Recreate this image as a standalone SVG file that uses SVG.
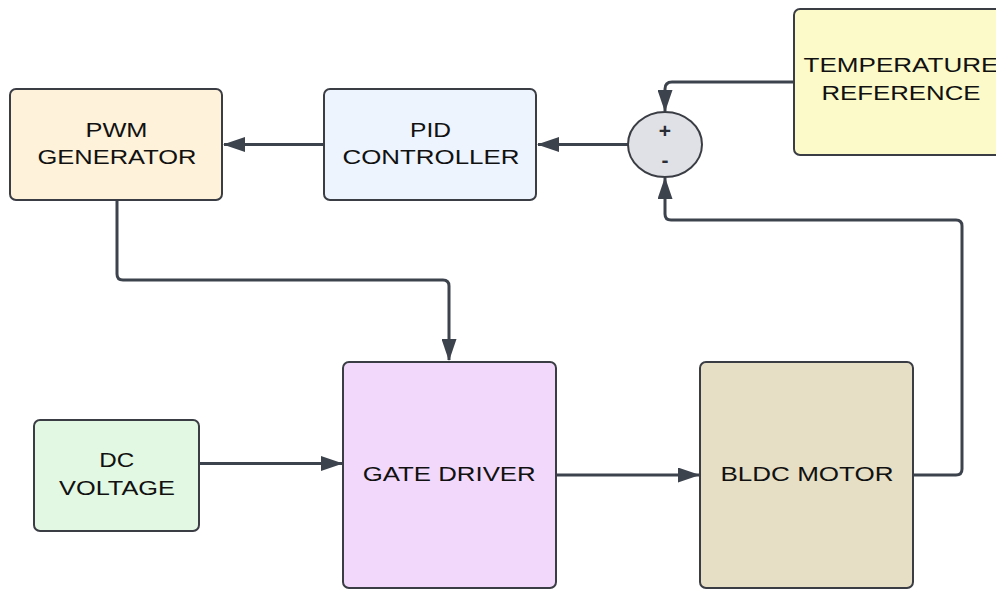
<svg xmlns="http://www.w3.org/2000/svg" width="996" height="590" viewBox="0 0 996 590">
<style>
.box{stroke:#3a3d44;stroke-width:2}
.lbl{font-family:"Liberation Sans",Arial,sans-serif;font-size:21px;fill:#111111;text-anchor:middle}
.sign{font-family:"Liberation Sans",Arial,sans-serif;font-size:21px;font-weight:bold;fill:#2a2d33;text-anchor:middle}
.conn{fill:none;stroke:#3d434c;stroke-width:3}
</style>
<defs>
<marker id="arr" markerUnits="userSpaceOnUse" markerWidth="22" markerHeight="15" refX="21" refY="7.5" orient="auto">
<path d="M0,0 L22,7.5 L0,15 z" fill="#3d434c"/>
</marker>
</defs>
<rect width="996" height="590" fill="#ffffff"/>
<g id="connectors">
<path class="conn" d="M794,82 H672 Q665,82 665,89 V111" marker-end="url(#arr)"/>
<path class="conn" d="M913,475 H956 Q962,475 962,469 V226 Q962,220 956,220 H671 Q665,220 665,214 V178" marker-end="url(#arr)"/>
<path class="conn" d="M628,144.5 H538" marker-end="url(#arr)"/>
<path class="conn" d="M324,144.5 H224" marker-end="url(#arr)"/>
<path class="conn" d="M117,200 V274 Q117,280 123,280 H443 Q449,280 449,286 V360" marker-end="url(#arr)"/>
<path class="conn" d="M199,463.5 H342" marker-end="url(#arr)"/>
<path class="conn" d="M556,475 H699" marker-end="url(#arr)"/>
</g>
<g id="pwm">
<rect class="box" x="10" y="89" width="212" height="111" rx="6" fill="#FEF2DA"/>
<text class="lbl" x="116.5" y="137" textLength="62" lengthAdjust="spacingAndGlyphs">PWM</text>
<text class="lbl" x="117" y="164" textLength="159" lengthAdjust="spacingAndGlyphs">GENERATOR</text>
</g>
<g id="pid">
<rect class="box" x="324" y="89" width="212" height="111" rx="6" fill="#EDF4FE"/>
<text class="lbl" x="430.5" y="137" textLength="41" lengthAdjust="spacingAndGlyphs">PID</text>
<text class="lbl" x="431" y="164" textLength="177" lengthAdjust="spacingAndGlyphs">CONTROLLER</text>
</g>
<g id="sum">
<ellipse class="box" cx="665" cy="144.5" rx="37" ry="32.5" fill="#DFE1E6"/>
<text class="sign" x="665" y="138">+</text>
<text class="sign" x="665" y="167">-</text>
</g>
<g id="temperature-reference">
<rect class="box" x="794" y="9" width="214" height="146" rx="6" fill="#FCFAC9"/>
<text class="lbl" x="901" y="72" textLength="195" lengthAdjust="spacingAndGlyphs">TEMPERATURE</text>
<text class="lbl" x="901" y="100" textLength="159" lengthAdjust="spacingAndGlyphs">REFERENCE</text>
</g>
<g id="dc-voltage">
<rect class="box" x="34" y="420" width="165" height="111" rx="6" fill="#E2F8E2"/>
<text class="lbl" x="116.7" y="467" textLength="35" lengthAdjust="spacingAndGlyphs">DC</text>
<text class="lbl" x="117" y="495" textLength="116" lengthAdjust="spacingAndGlyphs">VOLTAGE</text>
</g>
<g id="gate-driver">
<rect class="box" x="343" y="362" width="213" height="226" rx="6" fill="#F2D9FC"/>
<text class="lbl" x="449.2" y="481" textLength="173" lengthAdjust="spacingAndGlyphs">GATE DRIVER</text>
</g>
<g id="bldc-motor">
<rect class="box" x="700" y="362" width="213" height="226" rx="6" fill="#E6DFC5"/>
<text class="lbl" x="807" y="481" textLength="173" lengthAdjust="spacingAndGlyphs">BLDC MOTOR</text>
</g>
</svg>
